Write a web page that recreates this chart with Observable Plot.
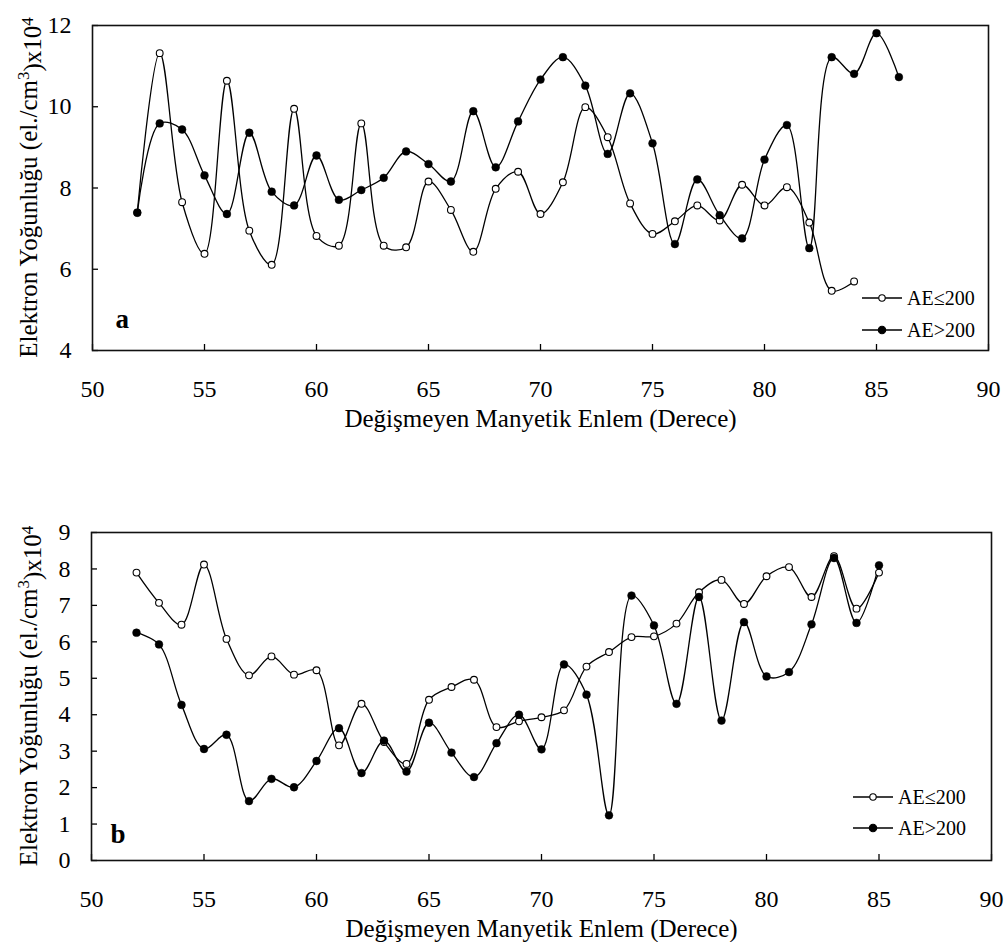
<!DOCTYPE html>
<html><head><meta charset="utf-8">
<script src="https://cdn.jsdelivr.net/npm/d3@7"></script>
<script src="https://cdn.jsdelivr.net/npm/@observablehq/plot@0.6"></script>
<style>body{margin:0;background:#fff;} #chart svg{display:block;}</style>
</head><body><div id="chart"></div>
<script>
// ---- Data ----
const latA_low  = [52,53,54,55,56,57,58,59,60,61,62,63,64,65,66,67,68,69,70,71,72,73,74,75,76,77,78,79,80,81,82,83,84];
const neA_low   = [7.4,11.32,7.65,6.38,10.64,6.95,6.11,9.95,6.82,6.58,9.59,6.58,6.54,8.16,7.46,6.43,7.98,8.40,7.36,8.14,9.99,9.25,7.62,6.87,7.18,7.57,7.2,8.08,7.57,8.02,7.15,5.47,5.70];
const latA_high = [52,53,54,55,56,57,58,59,60,61,62,63,64,65,66,67,68,69,70,71,72,73,74,75,76,77,78,79,80,81,82,83,84,85,86];
const neA_high  = [7.39,9.59,9.44,8.31,7.36,9.36,7.91,7.57,8.80,7.71,7.95,8.25,8.90,8.59,8.16,9.89,8.51,9.64,10.67,11.22,10.52,8.84,10.33,9.10,6.62,8.21,7.33,6.76,8.70,9.55,6.52,11.22,10.81,11.81,10.73];
const latB      = [52,53,54,55,56,57,58,59,60,61,62,63,64,65,66,67,68,69,70,71,72,73,74,75,76,77,78,79,80,81,82,83,84,85];
const neB_low   = [7.90,7.07,6.47,8.12,6.08,5.08,5.60,5.10,5.22,3.16,4.30,3.25,2.65,4.41,4.76,4.96,3.66,3.82,3.93,4.12,5.32,5.72,6.13,6.15,6.50,7.36,7.70,7.04,7.80,8.05,7.23,8.35,6.91,7.90];
const neB_high  = [6.25,5.93,4.27,3.06,3.45,1.63,2.24,2.01,2.73,3.63,2.40,3.29,2.44,3.78,2.96,2.29,3.22,4.00,3.05,5.38,4.55,1.24,7.27,6.45,4.30,7.23,3.84,6.54,5.05,5.17,6.48,8.30,6.52,8.10];
const xTicks  = [50,55,60,65,70,75,80,85,90];
const yTicksA = [4,6,8,10,12];
const yTicksB = [0,1,2,3,4,5,6,7,8,9];
const seriesNames = ["AE≤200", "AE>200"];
const xTitle = "Değişmeyen Manyetik Enlem (Derece)";
const yTitleParts = ["Elektron Yoğunluğu (el./cm", "3", ")x10", "4"];
const panelLetters = ["a", "b"];

const FONT = "'Liberation Serif', 'Times New Roman', serif";
const W = 1004, H = 471;

function rows(xs, ys) { return xs.map((x, i) => ({x, y: ys[i]})); }

function panel(o) {
  const plotW = W - o.ml - o.mr, plotH = H - o.mt - o.mb;
  const low = rows(o.xLow, o.yLow), high = rows(o.xHigh, o.yHigh);
  const svg = Plot.plot({
    width: W, height: H,
    marginTop: o.mt, marginBottom: o.mb, marginLeft: o.ml, marginRight: o.mr,
    style: {fontFamily: FONT, fontSize: "23px", color: "#000", background: "#fff", overflow: "visible"},
    x: {domain: [50, 90], ticks: xTicks},
    y: {domain: o.yDomain, ticks: o.yTicks},
    marks: [
      Plot.axisX({ticks: xTicks, tickSize: 0, tickPadding: 29, label: null, fontSize: 24, fontFamily: FONT}),
      Plot.axisY({ticks: o.yTicks, tickSize: 0, tickPadding: 21, label: null, fontSize: 24, fontFamily: FONT}),
      Plot.tickX(xTicks, {x: d => d, insetTop: plotH - 6, stroke: "#000", strokeWidth: 1.3}),
      Plot.tickY(o.yTicks, {y: d => d, insetRight: plotW - 6, stroke: "#000", strokeWidth: 1.3}),
      Plot.line(high, {x: "x", y: "y", curve: "catmull-rom", stroke: "#000", strokeWidth: 1.3}),
      Plot.line(low, {x: "x", y: "y", curve: "catmull-rom", stroke: "#000", strokeWidth: 1.3}),
      Plot.dot(low, {x: "x", y: "y", r: 3.4, fill: "#fff", stroke: "#000", strokeWidth: 1.1}),
      Plot.dot(high, {x: "x", y: "y", r: 3.9, fill: "#000", stroke: "#000", strokeWidth: 0.5}),
      Plot.text([o.letter], {text: d => d, frameAnchor: "bottom-left", dx: o.letterDx, dy: o.letterDy,
        textAnchor: "start", lineAnchor: "bottom", fontSize: 27, fontWeight: "bold", fontFamily: FONT}),
      Plot.text([xTitle], {text: d => d, frameAnchor: "bottom", dy: 68, lineAnchor: "middle", fontSize: 25, fontFamily: FONT}),
      Plot.frame({stroke: "#111", strokeWidth: 1.6})
    ]
  });
  const s = d3.select(svg);
  // y-axis title with superscripts
  const cy = o.mt + plotH / 2;
  const t = s.append("text")
    .attr("transform", `translate(37,${cy}) rotate(-90)`)
    .attr("text-anchor", "middle")
    .attr("font-family", FONT).attr("font-size", 25).attr("fill", "#000");
  t.append("tspan").text(yTitleParts[0]);
  t.append("tspan").attr("dy", "-0.45em").attr("font-size", "0.68em").text(yTitleParts[1]);
  t.append("tspan").attr("dy", "0.45em").text(yTitleParts[2]);
  t.append("tspan").attr("dy", "-0.45em").attr("font-size", "0.68em").text(yTitleParts[3]);
  // legend
  o.legendY.forEach((ly, i) => {
    const g = s.append("g");
    g.append("line").attr("x1", o.legendX).attr("x2", o.legendX + 40).attr("y1", ly).attr("y2", ly)
      .attr("stroke", "#000").attr("stroke-width", 1.3);
    g.append("circle").attr("cx", o.legendX + 20).attr("cy", ly).attr("r", i === 0 ? 3.2 : 3.7)
      .attr("fill", i === 0 ? "#fff" : "#000").attr("stroke", "#000").attr("stroke-width", 1.1);
    g.append("text").attr("x", o.legendX + 45).attr("y", ly + 7).attr("text-anchor", "start")
      .attr("font-family", FONT).attr("font-size", 20).attr("fill", "#000").text(seriesNames[i]);
  });
  return svg;
}

const chart = document.getElementById("chart");
chart.append(panel({
  xLow: latA_low, yLow: neA_low, xHigh: latA_high, yHigh: neA_high,
  yDomain: [4, 12], yTicks: yTicksA, letter: panelLetters[0],
  mt: 25, mb: 121, ml: 92, mr: 16, letterDx: 23, letterDy: -23,
  legendX: 862, legendY: [298, 330]
}));
chart.append(panel({
  xLow: latB, yLow: neB_low, xHigh: latB, yHigh: neB_high,
  yDomain: [0, 9], yTicks: yTicksB, letter: panelLetters[1],
  mt: 61, mb: 82, ml: 91, mr: 13, letterDx: 19, letterDy: -18,
  legendX: 853, legendY: [326, 357]
}));
</script>
</body></html>
